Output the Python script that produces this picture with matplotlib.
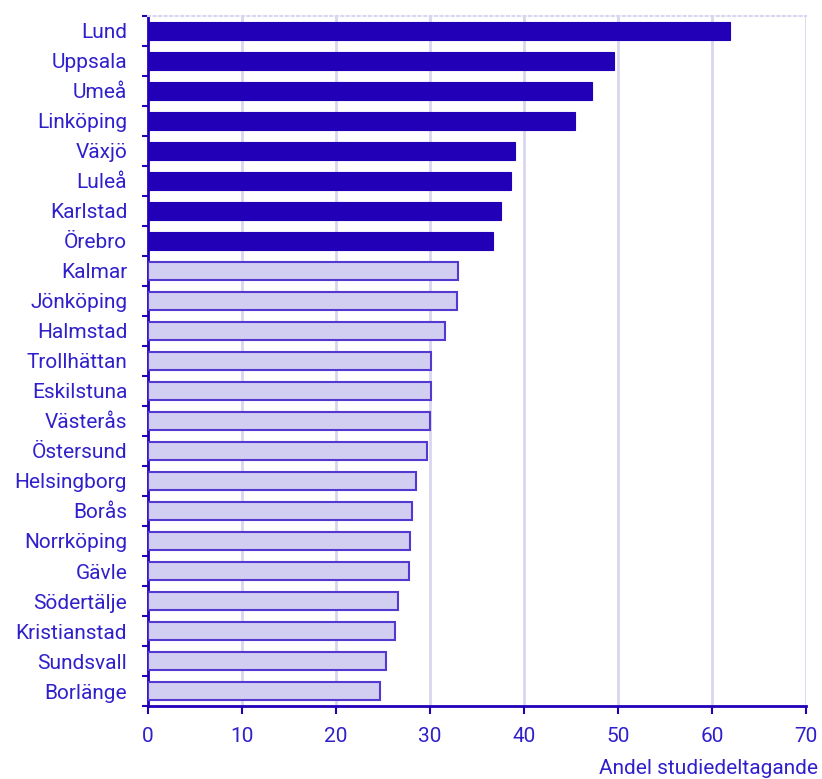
import matplotlib.pyplot as plt
import numpy as np

plt.rcParams['font.family'] = ['Roboto', 'DejaVu Sans']

cities = ["Lund", "Uppsala", "Umeå", "Linköping", "Växjö", "Luleå", "Karlstad", "Örebro",
          "Kalmar", "Jönköping", "Halmstad", "Trollhättan", "Eskilstuna", "Västerås",
          "Östersund", "Helsingborg", "Borås", "Norrköping", "Gävle", "Södertälje",
          "Kristianstad", "Sundsvall", "Borlänge"]
values = [61.9, 49.6, 47.2, 45.4, 39.0, 38.6, 37.6, 36.7,
          33.0, 32.9, 31.6, 30.1, 30.1, 30.0,
          29.7, 28.5, 28.1, 27.9, 27.8, 26.6,
          26.3, 25.3, 24.7]
n_dark = 8
xticks = [0, 10, 20, 30, 40, 50, 60, 70]

text_col = '#3020CC'
dark = '#2200B8'
light = '#D2CEF2'
light_edge = '#5538D0'
grid_col = '#D8D6F0'

fig = plt.figure(figsize=(8.22, 7.79), dpi=100)
ax = fig.add_axes([0.180, 0.0937, 0.8005, 0.8858])

y = np.arange(len(cities))
for i, (c, v) in enumerate(zip(cities, values)):
    if i < n_dark:
        ax.barh(i, v, height=0.6, color=dark, edgecolor=dark, linewidth=0.8, zorder=3)
    else:
        ax.barh(i, v, height=0.6, color=light, edgecolor=light_edge, linewidth=1.5, zorder=3)

ax.set_ylim(len(cities) - 0.5, -0.5)
ax.set_xlim(0, 70)
ax.set_xticks(xticks)
ax.set_yticks(y)
ax.set_yticklabels(cities)
ax.set_yticks(np.arange(-0.5, len(cities), 1), minor=True)

ax.tick_params(axis='y', which='major', length=0, pad=15, labelsize=15, labelcolor=text_col)
ax.tick_params(axis='y', which='minor', length=4, width=1.5, color=dark, direction='out')
ax.tick_params(axis='x', which='major', length=6, width=1.5, color=dark, labelsize=15,
               labelcolor=text_col, pad=9)

for xv in xticks[1:]:
    ax.axvline(xv, color=grid_col, linewidth=2, zorder=1)

ax.spines['left'].set_color(dark)
ax.spines['left'].set_linewidth(2)
ax.spines['bottom'].set_color(dark)
ax.spines['bottom'].set_linewidth(2)
ax.spines['right'].set_visible(False)
ax.spines['top'].set_color(grid_col)
ax.spines['top'].set_linestyle(':')
ax.spines['top'].set_linewidth(1.5)

fig.text(818 / 822, 1 - 768 / 779, "Andel studiedeltagande", color=text_col, fontsize=15,
         ha='right', va='center')

fig.savefig("out.png", dpi=100)
